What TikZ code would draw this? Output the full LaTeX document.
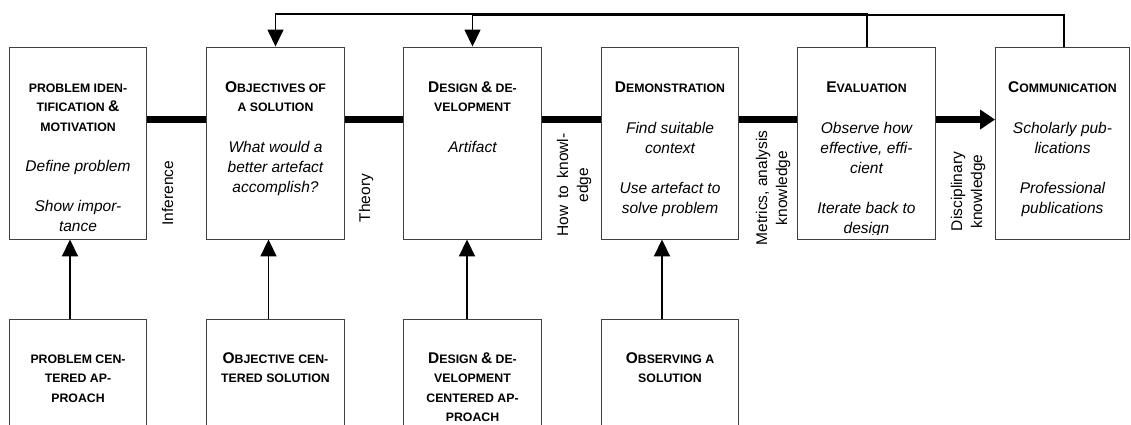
\documentclass[tikz,border=0pt]{standalone}
\usepackage{fontspec}
\setmainfont{Liberation Sans}
\usetikzlibrary{arrows.meta}
\newcommand\Bg[1]{{\fontsize{15.5}{19.2}\selectfont #1}}
\newcommand\fst{\rule{0pt}{13pt}}
\begin{document}
\begin{tikzpicture}[x=1pt,y=-1pt,
  box/.style={draw=black!75, line width=0.9pt, fill=white, minimum width=137.5pt, minimum height=192pt, inner sep=0pt},
  lowbox/.style={draw=black!75, line width=0.9pt, fill=white, minimum width=137.5pt, minimum height=121pt, inner sep=0pt},
  ttl/.style={anchor=north, align=center, inner sep=0pt, font=\bfseries\fontsize{12.3}{19.2}\selectfont},
  body/.style={anchor=north, align=center, inner sep=0pt, font=\itshape\fontsize{15.5}{20}\selectfont},
  lbl/.style={rotate=90, align=center, inner sep=0pt, font=\fontsize{15.5}{20}\selectfont},
  flow/.style={line width=7pt, black},
  flowarr/.style={line width=7pt, black, -{Triangle[length=15pt,width=19pt]}},
  loopline/.style={line width=1.5pt, black, -{Triangle[length=17pt,width=16pt]}},
  uparr/.style={line width=1.8pt, black, -{Triangle[length=17pt,width=16pt]}}]
\useasboundingbox (0,0) rectangle (1131,425);
\clip (0,0) rectangle (1131,425);

% top boxes
\node[box] (b1) at (78,143) {};
\node[box] (b2) at (275.5,143) {};
\node[box] (b3) at (472.5,143) {};
\node[box] (b4) at (670,143) {};
\node[box] (b5) at (866.5,143) {};
\node[box, minimum width=134pt] (b6) at (1062.5,143) {};

% bottom boxes
\node[lowbox] (c1) at (78,379.5) {};
\node[lowbox] (c2) at (275.5,379.5) {};
\node[lowbox] (c3) at (472.5,379.5) {};
\node[lowbox] (c4) at (670,379.5) {};

% main flow line
\draw[flow] ([yshift=-73pt]b1.north east) -- ([yshift=-73pt]b2.north west);
\draw[flow] ([yshift=-73pt]b2.north east) -- ([yshift=-73pt]b3.north west);
\draw[flow] ([yshift=-73pt]b3.north east) -- ([yshift=-73pt]b4.north west);
\draw[flow] ([yshift=-73pt]b4.north east) -- ([yshift=-73pt]b5.north west);
\draw[flowarr] ([yshift=-73pt]b5.north east) -- ([yshift=-73pt]b6.north west);

% feedback loops
\coordinate (top1) at (0,14);
\coordinate (top2) at (0,15.2);
\draw[loopline] ([xshift=0.5pt]b5.north) -- ([xshift=0.5pt]b5.north |- top1) -| (b2.north);
\draw[loopline] ([xshift=1.5pt]b6.north) -- ([xshift=1.5pt]b6.north |- top2) -| (b3.north);

% bottom arrows
\draw[uparr] ([xshift=-8pt]c1.north) -- ([xshift=-8pt]b1.south);
\draw[uparr] ([xshift=-7pt]c2.north) -- ([xshift=-7pt]b2.south);
\draw[uparr] ([xshift=-5.5pt]c3.north) -- ([xshift=-5.5pt]b3.south);
\draw[uparr] ([xshift=-8pt]c4.north) -- ([xshift=-8pt]b4.south);

% titles
\node[ttl] (t1) at ([yshift=-33pt]b1.north) {\fst PROBLEM IDEN-\\TIFICATION \Bg{\&}\\MOTIVATION};
\node[ttl] (t2) at ([yshift=-33pt]b2.north) {\fst\Bg{O}BJECTIVES OF\\A SOLUTION};
\node[ttl] (t3) at ([yshift=-33pt]b3.north) {\fst\Bg{D}ESIGN \Bg{\&} DE-\\VELOPMENT};
\node[ttl] (t4) at ([yshift=-33pt]b4.north) {\fst\Bg{D}EMONSTRATION};
\node[ttl] (t5) at ([yshift=-33pt]b5.north) {\fst\Bg{E}VALUATION};
\node[ttl] (t6) at ([yshift=-33pt]b6.north) {\fst\Bg{C}OMMUNICATION};

% bodies
\node[body] (d1) at ([yshift=-112pt]b1.north) {\fst Define problem\\[20pt]Show impor-\\tance};
\node[body] (d2) at ([yshift=-93pt]b2.north) {\fst What would a\\better artefact\\accomplish?};
\node[body] (d3) at ([yshift=-93pt]b3.north) {\fst Artifact};
\node[body] (d4) at ([yshift=-74pt]b4.north) {\fst Find suitable\\context\\[20pt]Use artefact to\\solve problem};
\begin{scope}
\clip (b5.north west) rectangle ([yshift=5pt]b5.south east);
\node[body] (d5) at ([yshift=-74pt]b5.north) {\fst Observe how\\effective, effi-\\cient\\[20pt]Iterate back to\\design};
\end{scope}
\node[body] (d6) at ([yshift=-74pt]b6.north) {\fst Scholarly pub-\\lications\\[20pt]Professional\\publications};

% bottom titles
\node[ttl] (e1) at ([yshift=-32pt]c1.north) {\fst PROBLEM CEN-\\TERED AP-\\PROACH};
\node[ttl] (e2) at ([yshift=-32pt]c2.north) {\fst\Bg{O}BJECTIVE CEN-\\TERED SOLUTION};
\node[ttl] (e3) at ([yshift=-32pt]c3.north) {\fst\Bg{D}ESIGN \Bg{\&} DE-\\VELOPMENT\\CENTERED AP-\\PROACH};
\node[ttl] (e4) at ([yshift=-32pt]c4.north) {\fst\Bg{O}BSERVING A\\SOLUTION};

% vertical labels
\node[lbl, anchor=base] (l1) at (173,193) {Inference};
\node[lbl, anchor=base] (l2) at (370,198) {Theory};
\node[lbl, anchor=center] (l3) at (574,185) {\makebox[103pt][s]{How to knowl-}\\edge};
\node[lbl, anchor=center] (l4) at (773,188) {Metrics, analysis\\knowledge};
\node[lbl, anchor=center] (l5) at (968,191.5) {Disciplinary\\knowledge};
\end{tikzpicture}
\end{document}
